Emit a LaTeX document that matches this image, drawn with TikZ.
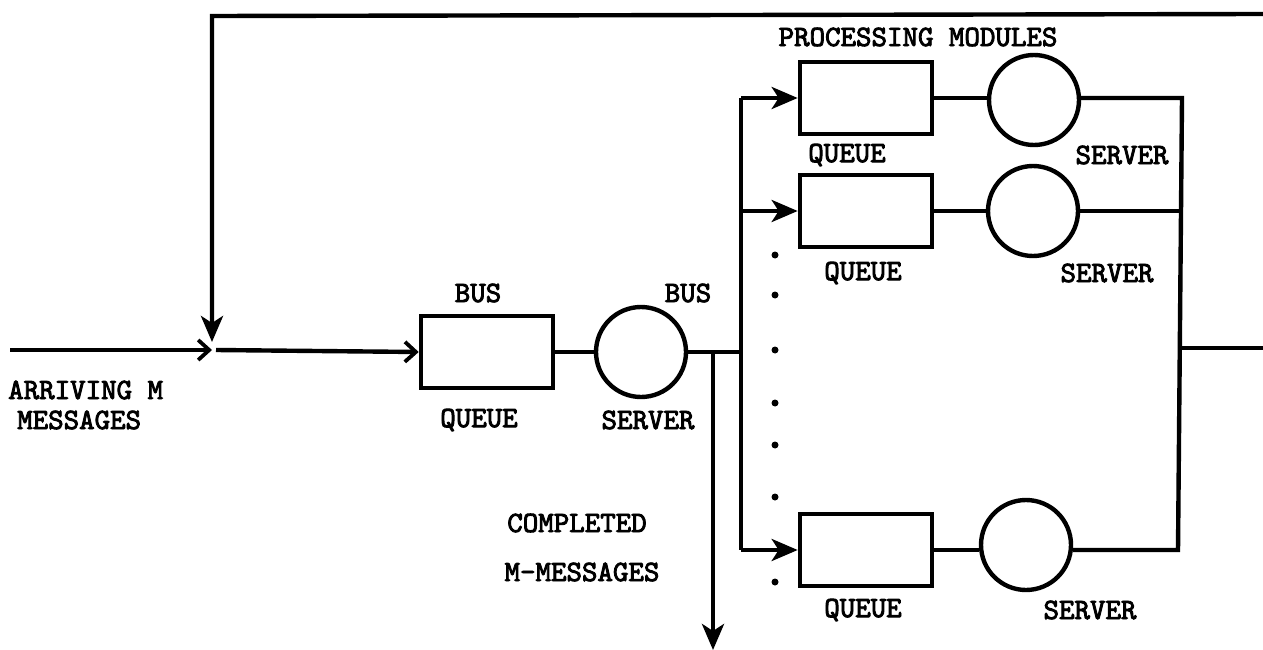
\documentclass[tikz,border=0pt]{standalone}
\usepackage{fontspec}
\newfontfamily\tw[FakeBold=3]{lmmono10-regular.otf}
\usetikzlibrary{arrows.meta}
\begin{document}
\begin{tikzpicture}[x=1pt,y=-1pt,
  ln/.style={line width=4.4pt},
  queuebox/.style={draw,line width=4.6pt,minimum width=132pt,minimum height=72pt,inner sep=0pt},
  serverbox/.style={draw,circle,line width=4.4pt,minimum size=90pt,inner sep=0pt},
  lbl/.style={font=\tw\fontsize{29.5}{32}\selectfont,inner sep=0pt},
  fillarr/.style={-{Stealth[length=26pt,width=22pt,inset=7pt]}},
  openarr/.style={-{Straight Barb[length=11pt,width=20pt,line width=3.8pt]}},
  dotmark/.style={circle,fill,inner sep=0pt,minimum size=7pt}]
\useasboundingbox (0,0) rectangle (1263,650);
% bus stage
\node[queuebox] (bq) at (487,352) {};
\node[serverbox] (bs) at (641,352) {};
% processing modules
\node[queuebox] (q1) at (866,98) {};
\node[serverbox] (s1) at (1034,100) {};
\node[queuebox] (q2) at (866,211) {};
\node[serverbox] (s2) at (1033,211) {};
\node[queuebox] (q3) at (866,550) {};
\node[serverbox] (s3) at (1026,545) {};
% coordinates
\coordinate (in0) at (10,350);
\coordinate (join) at (212,350);
\coordinate (fbtop) at (212,16);
\coordinate (fbright) at (1263,14);
\coordinate (fbtip) at (212,342);
\coordinate (bj) at (713,352);
\coordinate (bv) at (741,352);
\coordinate (bvtop) at (741,98);
\coordinate (bv2) at (741,211);
\coordinate (bvbot) at (741,550);
\coordinate (rvtop) at (1182,98);
\coordinate (rv2) at (1181,211);
\coordinate (rvbot) at (1178,550);
\coordinate (rvmid) at (1180,348);
\coordinate (outr) at (1263,348);
\coordinate (cdown) at (713,650);
% input and feedback
\draw[ln,openarr] (in0) -- (join);
\draw[ln,openarr] (216,350) -- (bq.west);
\draw[ln,fillarr,line join=miter] (fbright) -- (fbtop) -- (fbtip);
% bus to server to distribution
\draw[ln] (bq.east) -- (bs.west);
\draw[ln] (bs.east) -- (bv);
\draw[ln,fillarr] (bj) -- (cdown);
\draw[ln,line join=miter] (bvtop) -- (bvbot);
\draw[ln,fillarr] (bvtop) -- (q1.west);
\draw[ln,fillarr] (bv2) -- (q2.west);
\draw[ln,fillarr] (bvbot) -- (q3.west);
% modules
\draw[ln] (q1.east) -- (s1.west |- q1.east);
\draw[ln] (q2.east) -- (s2.west);
\draw[ln] (q3.east) -- (s3.west |- q3.east);
\draw[ln,line join=miter] (s1.east |- rvtop) -- (rvtop) -- (rvbot) -- (s3.east |- rvbot);
\draw[ln] (s2.east) -- (rv2);
\draw[ln] (rvmid) -- (outr);
% dots
\foreach \yy/\nm in {255/d1,295/d2,350/d3,403/d4,445/d5,497/d6,582/d7}
  \node[dotmark] (\nm) at (775,\yy) {};
% labels
\node[lbl] (l1) at (478,293) {BUS};
\node[lbl] (l2) at (688,293) {BUS};
\node[lbl] (l3) at (479,420) {QUEUE};
\node[lbl] (l4) at (648,420) {SERVER};
\node[lbl] (l5) at (577,523) {COMPLETED};
\node[lbl] (l6) at (582,572) {M-MESSAGES};
\node[lbl,anchor=west] (l7) at (8,390) {ARRIVING M};
\node[lbl,anchor=west] (l8) at (17,420) {MESSAGES};
\node[lbl] (l9) at (918,37) {PROCESSING MODULES};
\node[lbl] (l10) at (847,155) {QUEUE};
\node[lbl] (l11) at (1122,155) {SERVER};
\node[lbl] (l12) at (863,273) {QUEUE};
\node[lbl] (l13) at (1107,273) {SERVER};
\node[lbl] (l14) at (863,610) {QUEUE};
\node[lbl] (l15) at (1090,610) {SERVER};
\end{tikzpicture}
\end{document}
